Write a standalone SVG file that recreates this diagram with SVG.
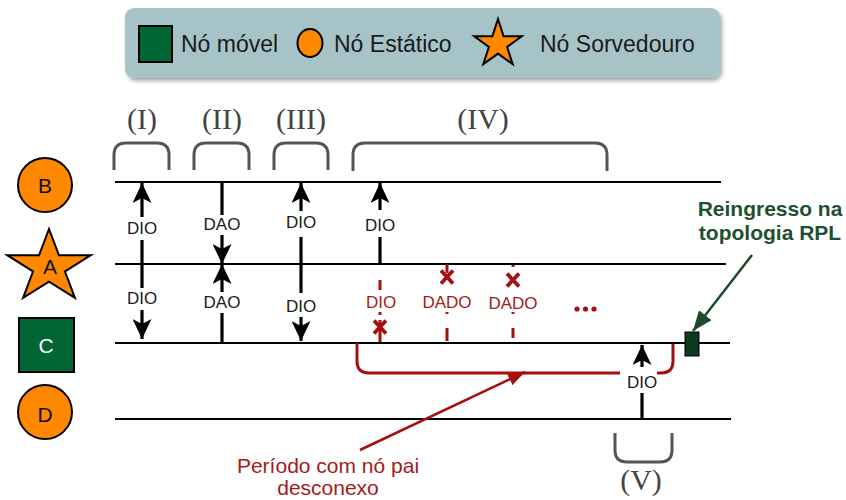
<svg xmlns="http://www.w3.org/2000/svg" width="846" height="500" viewBox="0 0 846 500">
<defs>
<marker id="ah" markerUnits="userSpaceOnUse" markerWidth="20" markerHeight="19" refX="20" refY="9.5" orient="auto" viewBox="0 0 20 19"><path d="M0,0 L20,9.5 L0,19 L5,9.5 z" fill="#000"/></marker>
<marker id="ahr" markerUnits="userSpaceOnUse" markerWidth="17" markerHeight="13" refX="17" refY="6.5" orient="auto" viewBox="0 0 17 13"><path d="M0,0 L17,6.5 L0,13 z" fill="#a50f0f"/></marker>
<marker id="ahg" markerUnits="userSpaceOnUse" markerWidth="20" markerHeight="16" refX="20" refY="8" orient="auto" viewBox="0 0 20 16"><path d="M0,0 L20,8 L0,16 z" fill="#1d4a2a"/></marker>
<filter id="sh" x="-5%" y="-20%" width="110%" height="150%"><feGaussianBlur in="SourceAlpha" stdDeviation="2"/><feOffset dx="2" dy="3"/><feComponentTransfer><feFuncA type="linear" slope="0.35"/></feComponentTransfer><feMerge><feMergeNode/><feMergeNode in="SourceGraphic"/></feMerge></filter>
</defs>
<style>
.t{font-family:"Liberation Sans",Arial,sans-serif;}
.leg{font-size:23px;fill:#1a1a1a;}
.nl{font-size:21px;text-anchor:middle;fill:#111;}
.lb{font-size:17px;text-anchor:middle;fill:#1a1a1a;}
.rl{font-size:17px;text-anchor:middle;fill:#a51a1a;}
.ph{font-family:"Liberation Serif","Times New Roman",serif;font-size:30px;text-anchor:middle;fill:#444;}
.tl{stroke:#000;stroke-width:2.2;fill:none;}
.br{stroke:#555;stroke-width:3;fill:none;}
.ar{stroke:#000;stroke-width:3.2;fill:none;}
.rd{stroke:#a50f0f;stroke-width:3;fill:none;}
.orn{fill:#ff8800;stroke:#000;stroke-width:2;}
.grn{fill:#006633;stroke:#000;stroke-width:2;}
</style>
<rect width="846" height="500" fill="#fff"/>

<g id="legend">
<rect x="125" y="8" width="595" height="70" rx="9" fill="#a6c4c8" filter="url(#sh)"/>
<rect x="139" y="26" width="33" height="36" class="grn"/>
<text x="181" y="52" class="t leg">Nó móvel</text>
<ellipse cx="310" cy="43" rx="12.5" ry="14" class="orn"/>
<text x="334" y="52" class="t leg">Nó Estático</text>
<polygon points="498,19 503.6,36.3 521.8,36.3 507.1,47 512.7,64.2 498,53.6 483.3,64.2 488.9,47 474.2,36.3 492.4,36.3" class="orn"/>
<text x="540" y="52" class="t leg">Nó Sorvedouro</text>
</g>

<g id="node-B">
<circle cx="45" cy="185" r="27" class="orn"/>
<text x="45" y="193" class="t nl">B</text>
</g>
<g id="node-A">
<polygon points="49,229 58.9,255.2 90.8,255.2 65,271.5 74.9,297.9 49,281.6 23.1,297.9 33,271.5 7.2,255.2 39.1,255.2" class="orn"/>
<text x="50" y="274" class="t nl">A</text>
</g>
<g id="node-C">
<rect x="19" y="318" width="55" height="54" class="grn"/>
<text x="46" y="353" class="t nl" style="fill:#fff">C</text>
</g>
<g id="node-D">
<circle cx="45" cy="412" r="27" class="orn"/>
<text x="45" y="422" class="t nl">D</text>
</g>

<g id="timelines">
<line x1="115" y1="182" x2="721" y2="182" class="tl"/>
<line x1="115" y1="264" x2="726" y2="264" class="tl"/>
<line x1="115" y1="343" x2="730" y2="343" class="tl"/>
<line x1="115" y1="419" x2="731" y2="419" class="tl"/>
</g>

<g id="phases">
<path d="M114,170 V155 Q114,143 126,143 H157 Q169,143 169,155 V170" class="br"/>
<text x="142" y="129" class="ph">(I)</text>
<path d="M194,170 V155 Q194,143 206,143 H237 Q249,143 249,155 V170" class="br"/>
<text x="222" y="129" class="ph">(II)</text>
<path d="M274,170 V155 Q274,143 286,143 H316 Q328,143 328,155 V170" class="br"/>
<text x="301" y="129" class="ph">(III)</text>
<path d="M353,171 V155 Q353,143 365,143 H595 Q607,143 607,155 V171" class="br"/>
<text x="483" y="129" class="ph">(IV)</text>
<path d="M615,433 V450 Q615,462 627,462 H660 Q672,462 672,450 V433" class="br"/>
<text x="641" y="490" class="ph">(V)</text>
</g>

<g id="connectors">
<!-- I -->
<line x1="142" y1="217" x2="142" y2="183" class="ar" marker-end="url(#ah)"/>
<text x="142" y="234" class="t lb">DIO</text>
<line x1="142" y1="240" x2="142" y2="288" class="ar"/>
<text x="142" y="304" class="t lb">DIO</text>
<line x1="142" y1="310" x2="142" y2="339" class="ar" marker-end="url(#ah)"/>
<!-- II -->
<line x1="222" y1="183" x2="222" y2="215" class="ar"/>
<text x="222" y="230" class="t lb">DAO</text>
<line x1="222" y1="235" x2="222" y2="264" class="ar" marker-end="url(#ah)"/>
<line x1="222" y1="343" x2="222" y2="313" class="ar"/>
<text x="222" y="308" class="t lb">DAO</text>
<line x1="222" y1="292" x2="222" y2="264" class="ar" marker-end="url(#ah)"/>
<!-- III -->
<line x1="301" y1="211" x2="301" y2="183" class="ar" marker-end="url(#ah)"/>
<text x="301" y="228" class="t lb">DIO</text>
<line x1="301" y1="237" x2="301" y2="293" class="ar"/>
<text x="301" y="312" class="t lb">DIO</text>
<line x1="301" y1="317" x2="301" y2="341" class="ar" marker-end="url(#ah)"/>
<!-- IV -->
<line x1="380" y1="263" x2="380" y2="237" class="ar"/>
<text x="380" y="231" class="t lb">DIO</text>
<line x1="380" y1="210" x2="380" y2="183" class="ar" marker-end="url(#ah)"/>
<!-- IV red -->
<g stroke="#a50f0f" stroke-width="3" fill="none">
<line x1="380" y1="280" x2="380" y2="290"/>
<line x1="380" y1="312" x2="380" y2="315"/>
<path d="M374,320.5 L386,333.5 M386,320.5 L374,333.5" stroke-width="3.8"/>
<line x1="380" y1="320" x2="380" y2="342"/>
<line x1="447" y1="264" x2="447" y2="273"/>
<path d="M441,270.5 L453,283.5 M453,270.5 L441,283.5" stroke-width="3.8"/>
<line x1="447" y1="312" x2="447" y2="314"/>
<line x1="447" y1="328" x2="447" y2="341"/>
<line x1="513" y1="265" x2="513" y2="267"/>
<path d="M507,273.5 L519,286.5 M519,273.5 L507,286.5" stroke-width="3.8"/>
<line x1="513" y1="312" x2="513" y2="314"/>
<line x1="513" y1="328" x2="513" y2="338"/>
</g>
<text x="381" y="308" class="t rl">DIO</text>
<text x="447" y="308" class="t rl">DADO</text>
<text x="513" y="309" class="t rl">DADO</text>
<g fill="#a50f0f"><circle cx="577" cy="309" r="2.6"/><circle cx="585.5" cy="309" r="2.6"/><circle cx="594" cy="309" r="2.6"/></g>
<!-- disconnected period bracket -->
<path d="M357,343 V361 Q357,373 369,373 H620" class="rd"/>
<path d="M657,373 H661 Q673,373 673,361 V344" class="rd"/>
<line x1="360" y1="450" x2="525" y2="372" stroke="#a50f0f" stroke-width="2.5" marker-end="url(#ahr)"/>
<!-- V -->
<line x1="642" y1="419" x2="642" y2="393" class="ar"/>
<text x="642" y="388" class="t lb">DIO</text>
<line x1="642" y1="367" x2="642" y2="345" class="ar" marker-end="url(#ah)"/>
<!-- reentry -->
<line x1="752" y1="255" x2="693" y2="331" stroke="#1d4a2a" stroke-width="2.5" marker-end="url(#ahg)"/>
</g>

<g id="reentry-node">
<rect x="685" y="332" width="14" height="24" fill="#0b3b1f" stroke="#000" stroke-width="1"/>
</g>

<g id="labels">
<text x="770" y="216" class="t" font-size="21" font-weight="bold" fill="#1f5130" text-anchor="middle">Reingresso na</text>
<text x="770" y="240" class="t" font-size="21" font-weight="bold" fill="#1f5130" text-anchor="middle">topologia RPL</text>
<text x="328" y="473" class="t" font-size="21" fill="#a51a1a" text-anchor="middle">Período com nó pai</text>
<text x="328" y="495" class="t" font-size="21" fill="#a51a1a" text-anchor="middle">desconexo</text>
</g>
</svg>
